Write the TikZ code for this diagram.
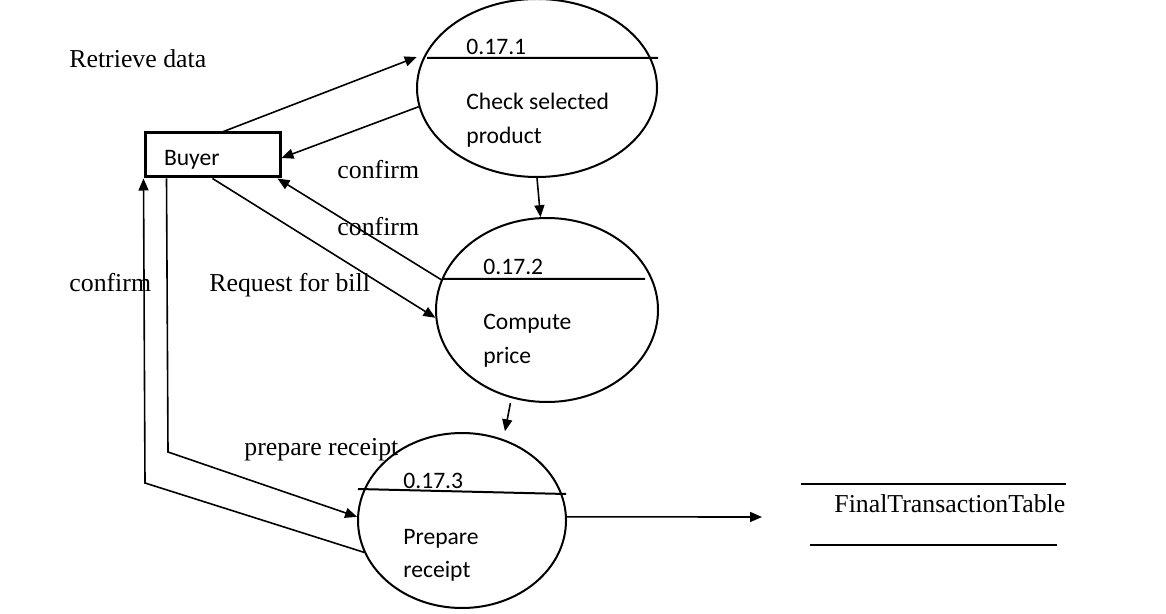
\documentclass[tikz,border=0pt]{standalone}
\usepackage{fontspec}
\setmainfont{Liberation Serif}
\newfontfamily\procfont{Carlito}
\usetikzlibrary{shapes.geometric,arrows.meta,calc}

\begin{document}
\begin{tikzpicture}[x=0.5pt, y=-0.5pt,
        flow/.style={-{Triangle[length=6pt,width=5pt]}, line width=0.8pt},
        proc/.style={ellipse, draw, line width=1pt, inner sep=0pt},
        ptext/.style={font=\procfont\fontsize{11.8}{14}\selectfont, anchor=base west, inner sep=0pt},
        lbl/.style={font=\fontsize{12.9}{15}\selectfont, anchor=base west, inner sep=0pt}]
        \useasboundingbox (0,0) rectangle (1166,614);

        % processes
        \node[proc, minimum width=120pt, minimum height=89pt] (p1) at (537,88) {};
        \node[proc, minimum width=111pt, minimum height=92pt] (p2) at (547,310) {};
        \node[proc, minimum width=104pt, minimum height=87.5pt] (p3) at (462,520.5) {};
        \draw[line width=1pt] ($(p1)+(-110,-30)$) -- ($(p1)+(121,-30)$)
                              ($(p2)+(-104,-31)$) -- ($(p2)+(98,-31)$)
                              ($(p3)+(-104,-31.5)$) -- ($(p3)+(104,-26.5)$);
        \foreach \n/\x/\ya/\yb/\yc/\la/\lb in {1/466/55/110/144/Check selected/product,
                2/483/275/330/364/Compute/price,
                3/403/488/544/577/Prepare/receipt}{
            \node[ptext] (n\n) at (\x,\ya) {0.17.\n};
            \node[ptext] (t\n-a) at (\x,\yb) {\la};
            \node[ptext] (t\n-b) at (\x,\yc) {\lb};
        }

        % entity and store
        \node[draw, line width=1.5pt, minimum width=67.5pt, minimum height=22pt,
              text width=48.5pt, inner xsep=9.5pt, text height=11pt, text depth=0pt,
              font=\procfont\fontsize{11.8}{14}\selectfont] (buyer) at (212.5,155) {Buyer};
        \draw[line width=1pt] (801,484) -- (1066,484)
                              (810,545) -- (1057,545);
        \node[lbl] (store) at (834,512) {FinalTransactionTable};
        \coordinate (storein) at (762,517);
        \coordinate (pr) at (168,452);
        \coordinate (cf) at (145,483);

        % flows
        \draw[flow, shorten >=4.5pt] ([xshift=5.5pt]buyer.north) -- (p1.163);
        \draw[flow] (p1.189) -- ([yshift=-1.5pt]buyer.east);
        \draw[flow] (p2.164) -- ([xshift=-2pt]buyer.south east);
        \draw[flow] (buyer.south) -- (p2.184);
        \draw[flow] (p1.south) -- (p2.94);
        \draw[flow, shorten <=2.5pt, shorten >=4pt] (p2.248) -- (p3.63);
        \draw[flow] ([xshift=11.5pt]buyer.south west) -- (pr) -- (p3.178);
        \draw[flow] (p3.198) -- (cf) -- (buyer.south west);
        \draw[flow] (p3.2) -- (storein);

        % labels
        \node[lbl] (retrieve) at (69,68) {Retrieve data};
        \node[lbl] (conf1) at (337,179) {confirm};
        \node[lbl] (conf2) at (337,236) {confirm};
        \node[lbl] (conf3) at (69,292) {confirm};
        \node[lbl] (reqbill) at (209,292) {Request for bill};
        \node[lbl] (prep) at (244,455) {prepare receipt};
\end{tikzpicture}
\end{document}
